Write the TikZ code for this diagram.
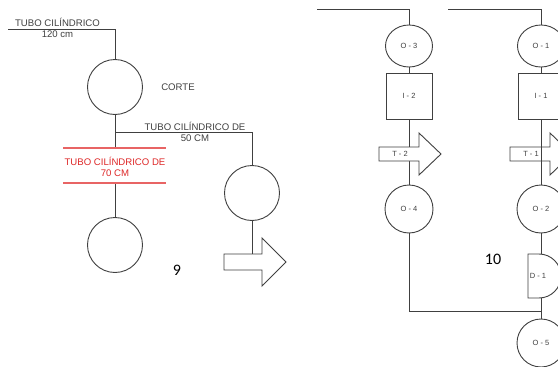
\documentclass[tikz,border=0pt]{standalone}
\usepackage{fontspec}
\setmainfont{Liberation Sans}
\newfontfamily\calib{Carlito}
\usetikzlibrary{shapes.geometric}
\definecolor{ln}{RGB}{64,64,64}
\definecolor{rd}{RGB}{222,40,40}
\definecolor{rdl}{RGB}{232,100,100}
\tikzset{
  line/.style={draw=ln, line width=0.9pt},
  redline/.style={draw=rdl, line width=1.1pt},
  bigcirc/.style={circle, draw=ln, line width=0.9pt, minimum size=55pt, inner sep=0pt},
  opcirc/.style={circle, draw=ln, line width=0.9pt, minimum size=48pt, inner sep=0pt, font=\fontsize{7.5}{9}\selectfont, text=ln},
  opell/.style={ellipse, draw=ln, line width=0.9pt, minimum width=47pt, minimum height=42pt, inner sep=0pt, font=\fontsize{7.5}{9}\selectfont, text=ln},
  insbox/.style={rectangle, draw=ln, line width=0.9pt, minimum width=46pt, minimum height=46pt, inner sep=0pt, font=\fontsize{7.5}{9}\selectfont, text=ln},
  arrowshape/.style={draw=ln, line width=0.9pt, fill=white},
  smalltxt/.style={inner sep=0pt, font=\fontsize{7.5}{9}\selectfont, text=ln},
  lbl/.style={inner sep=0pt, align=center, font=\fontsize{9.6}{11}\selectfont, text=ln},
  redlbl/.style={inner sep=0pt, align=center, font=\fontsize{9.6}{11}\selectfont, text=rd},
  num/.style={inner sep=0pt, font=\calib\fontsize{16}{18}\selectfont, text=black}
}
\begin{document}
\begin{tikzpicture}[x=1pt,y=-1pt]
\path[use as bounding box, fill=white] (0,0) rectangle (558,367);

% ---------- left diagram (9) ----------
\node[bigcirc] (c1) at (115,87) {};
\node[bigcirc] (c2) at (252,193) {};
\node[bigcirc] (c3) at (115,245) {};
\coordinate (t0) at (8,29);
\coordinate (j1) at (115,132);
\coordinate (r1) at (115,148);
\coordinate (r2) at (115,183);
\coordinate (r1a) at (63,148);
\coordinate (r1b) at (166,148);
\coordinate (r2a) at (63,183);
\coordinate (r2b) at (166,183);
\coordinate (bA) at (224,262);
\coordinate (bAtop) at (252,254);

\draw[line] (t0) -| (c1.north);
\draw[line] (c1.south) -- (r1);
\draw[line] (j1) -| (c2.north);
\draw[line] (r2) -- (c3.north);
\draw[line] (c2.south) -- (bAtop);
\draw[redline] (r1a) -- (r1b);
\draw[redline] (r2a) -- (r2b);
\draw[arrowshape] (bA) ++(0,-8) -- ++(38,0) -- ++(0,-16) -- ++(24,24) -- ++(-24,24) -- ++(0,-16) -- ++(-38,0) -- cycle;

\node[lbl] (tubo120) at (57.5,27.5) {TUBO CILÍNDRICO\\120 cm};
\node[lbl] (corte) at (178,87) {CORTE};
\node[lbl] (tubo50) at (195,131.5) {TUBO CILÍNDRICO DE\\50 CM};
\node[redlbl] (tubo70) at (115,166.5) {TUBO CILÍNDRICO DE\\70 CM};
\node[num] (n9) at (177,270) {9};

% ---------- right diagram (10) ----------
% column O-3
\node[opell] (o3) at (409,46) {O - 3};
\node[insbox] (i2) at (409,96) {I - 2};
\node[opcirc] (o4) at (409,209) {O - 4};
\coordinate (tl3) at (317,9);
\coordinate (t2b) at (379,154);
\draw[line] (tl3) -| (o3.north);
\draw[line] (o3.south) -- (i2.north);
\draw[line] (i2.south) -- (o4.north);
\draw[arrowshape] (t2b) ++(0,-7) -- ++(40,0) -- ++(0,-14) -- ++(22,21) -- ++(-22,21) -- ++(0,-14) -- ++(-40,0) -- cycle;
\node[smalltxt] (t2) at (400,154) {T - 2};

% column O-1
\node[opell] (o1) at (541,46) {O - 1};
\node[insbox] (i1) at (541,96) {I - 1};
\node[opcirc] (o2) at (541,209) {O - 2};
\node[opcirc] (o5) at (541,343) {O - 5};
\coordinate (tl1) at (448,9);
\coordinate (t1b) at (510,154);
\coordinate (d1top) at (541,254);
\coordinate (d1bot) at (541,298);
\coordinate (jr) at (541,311);
\draw[line] (tl1) -| (o1.north);
\draw[line] (o1.south) -- (i1.north);
\draw[arrowshape] (t1b) ++(0,-7) -- ++(40,0) -- ++(0,-14) -- ++(22,21) -- ++(-22,21) -- ++(0,-14) -- ++(-40,0) -- cycle;
\node[smalltxt] (t1) at (531,154) {T - 1};
\draw[line] (i1.south) -- (o2.north);
\draw[line] (o2.south) -- (d1top);
\draw[line] (528,254) -- (539,254) arc[start angle=-90, end angle=90, radius=22] -- (528,298) -- cycle;
\node[smalltxt] (d1) at (538,276) {D - 1};
\draw[line] (d1bot) -- (o5.north);
\draw[line] (o4.south) |- (jr);
\node[num] (n10) at (493,259) {10};
\end{tikzpicture}
\end{document}
